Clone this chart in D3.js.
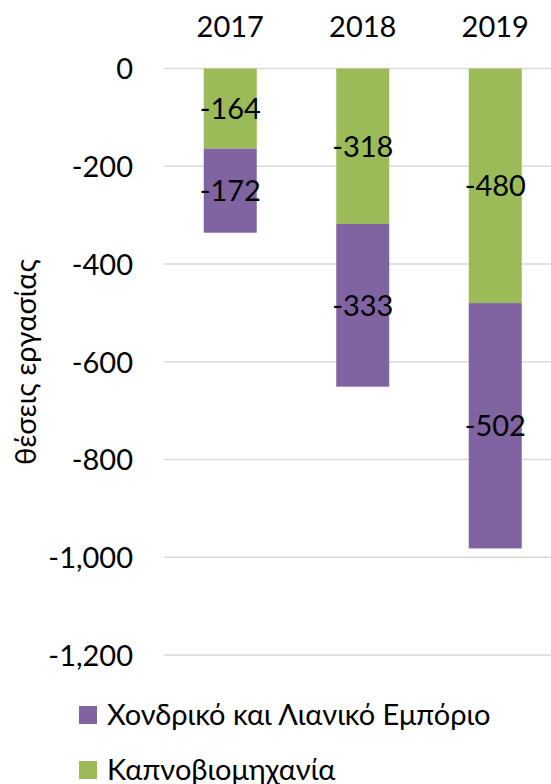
<!DOCTYPE html>
<html><head><meta charset="utf-8">
<script src="https://cdn.jsdelivr.net/npm/d3@7"></script>
<style>
html,body{margin:0;padding:0;background:#fff;}
svg{display:block;}
text{font-family:Lato,"Open Sans","Noto Sans",sans-serif;fill:#000;}
</style></head>
<body>
<svg id="chart" width="551" height="784"></svg>
<script>
const years = ["2017", "2018", "2019"];
const seriesNames = ["Καπνοβιομηχανία", "Χονδρικό και Λιανικό Εμπόριο"];
const tobacco = [-164, -318, -480];
const trade = [-172, -333, -502];
const yTicks = [0, -200, -400, -600, -800, -1000, -1200];
const colors = ["#9BBB59", "#8064A2"];
const yTitle = "θέσεις εργασίας";
const legendOrder = [1, 0];

const svg = d3.select("#chart");
const fmt = d3.formatLocale({decimal: ".", thousands: ",", grouping: [3], currency: ["", ""], minus: "-"}).format(",");

const x = d3.scaleBand().domain(years).range([164, 561.5]).paddingInner(0.6).paddingOuter(0.3);
const y = d3.scaleLinear().domain([0, -1200]).range([68.5, 655]);

const rows = years.map((yr, i) => ({year: yr, s0: tobacco[i], s1: trade[i]}));
const stack = d3.stack().keys(["s0", "s1"]).offset(d3.stackOffsetDiverging);
const stacked = stack(rows);

// gridlines
svg.append("g").selectAll("line").data(yTicks).join("line")
  .attr("x1", 164).attr("x2", 551)
  .attr("y1", d => y(d)).attr("y2", d => y(d))
  .attr("stroke", "#d9d9d9").attr("stroke-width", 1.3);

// y axis labels
const yAxis = d3.axisLeft(y).tickValues(yTicks).tickFormat(fmt).tickSize(0).tickPadding(0);
const gy = svg.append("g").attr("transform", "translate(133,0)").call(yAxis);
gy.select(".domain").remove();
gy.selectAll("text").attr("font-size", 29).attr("font-family", "Lato, 'Open Sans', sans-serif").attr("fill", "#000").attr("dy", "0.36em");

// x axis labels on top
const xAxis = d3.axisTop(x).tickSize(0).tickPadding(0);
const gx = svg.append("g").attr("transform", "translate(0,37)").call(xAxis);
gx.select(".domain").remove();
gx.selectAll("text").attr("font-size", 29).attr("font-family", "Lato, 'Open Sans', sans-serif").attr("fill", "#000").attr("dy", 0);

// bars
const groups = svg.append("g").selectAll("g").data(stacked).join("g")
  .attr("fill", (d, i) => colors[i]);
groups.selectAll("rect").data(d => d).join("rect")
  .attr("x", d => x(d.data.year))
  .attr("width", x.bandwidth())
  .attr("y", d => y(Math.max(d[0], d[1])))
  .attr("height", d => Math.abs(y(d[0]) - y(d[1])));

// data labels
const labG = svg.append("g");
stacked.forEach(s => {
  s.forEach(d => {
    labG.append("text")
      .attr("x", x(d.data.year) + x.bandwidth() / 2)
      .attr("y", y((d[0] + d[1]) / 2))
      .attr("dy", "0.36em")
      .attr("text-anchor", "middle")
      .attr("font-size", 29)
      .text(fmt(d.data[s.key]));
  });
});

// y title
svg.append("text")
  .attr("transform", "translate(36,362) rotate(-90)")
  .attr("text-anchor", "middle")
  .attr("font-size", 29)
  .text(yTitle);

// legend
const leg = svg.append("g").selectAll("g").data(legendOrder).join("g")
  .attr("transform", (d, i) => `translate(79,${706 + i * 55})`);
leg.append("rect").attr("width", 18).attr("height", 18).attr("fill", d => colors[d]);
leg.append("text").attr("x", 28).attr("y", 9).attr("dy", "0.36em")
  .attr("font-size", 29).text(d => seriesNames[d]);
</script>
</body></html>
